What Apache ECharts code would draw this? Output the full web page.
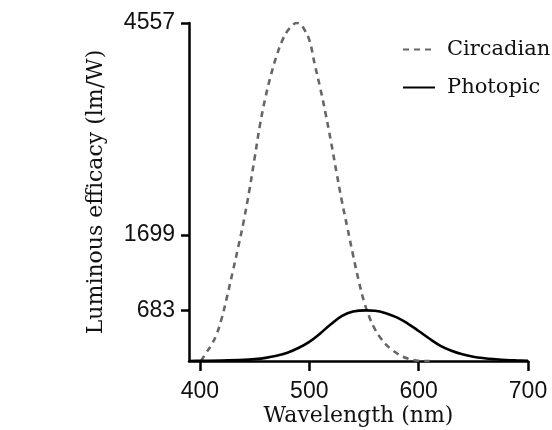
<!DOCTYPE html>
<html>
<head>
<meta charset="utf-8">
<script src="https://cdn.jsdelivr.net/npm/echarts@6/dist/echarts.min.js"></script>
<style>
  html, body { margin: 0; padding: 0; background: #fff; }
  #chart { width: 552px; height: 430px; }
</style>
</head>
<body>
<div id="chart"></div>
<script>
// values (wavelength in nm, efficacy in lm/W)
var circadianNm = [401, 405, 410, 415, 420, 425, 430, 435, 440, 445, 450, 455, 460, 465, 470, 475, 480, 485, 488, 492, 495, 500, 505, 510, 515, 520, 525, 530, 535, 540, 545, 550, 555, 560, 565, 570, 575, 580, 585, 590, 595, 600, 610];
var circadianVal = [0, 95, 205, 350, 580, 880, 1205, 1535, 1885, 2285, 2735, 3190, 3560, 3860, 4110, 4310, 4450, 4530, 4557, 4540, 4480, 4330, 4000, 3680, 3330, 2945, 2535, 2140, 1785, 1430, 1095, 805, 590, 430, 315, 225, 160, 105, 62, 33, 14, 4, 0];
var photopicNm = [390, 400, 420, 440, 450, 460, 470, 480, 490, 500, 510, 520, 530, 540, 552, 560, 570, 580, 590, 600, 610, 620, 630, 640, 650, 660, 670, 680, 690, 700];
var photopicVal = [0, 2, 6, 15, 25, 42, 70, 112, 175, 258, 372, 500, 608, 666, 683, 678, 645, 588, 505, 405, 300, 205, 138, 90, 58, 38, 24, 13, 7, 3];
var xTicks = [400, 500, 600, 700];
var yTicks = [683, 1699, 4557];

function pairs(xs, ys) {
  return xs.map(function (x, i) { return [x, ys[i]]; });
}

var chart = echarts.init(document.getElementById('chart'));
var option = {
  animation: false,
  backgroundColor: '#fff',
  grid: { left: 189, right: 24, top: 23, bottom: 69, outerBoundsMode: 'none' },
  legend: {
    orient: 'vertical',
    left: 397,
    top: 34,
    itemWidth: 32,
    itemHeight: 12,
    itemGap: 17,
    data: ['Circadian', 'Photopic'],
    itemStyle: { opacity: 0 },
    textStyle: {
      fontFamily: 'DejaVu Serif',
      fontSize: 21,
      color: '#111',
      padding: [0, 0, 0, 7]
    }
  },
  xAxis: {
    type: 'value',
    min: 390,
    max: 700,
    name: 'Wavelength (nm)',
    nameLocation: 'middle',
    nameGap: 44,
    nameMoveOverlap: false,
    nameTextStyle: { fontFamily: 'DejaVu Serif', fontSize: 22, color: '#111' },
    splitLine: { show: false },
    axisLine: { show: true, lineStyle: { color: '#000', width: 2.5 } },
    axisTick: { show: true, length: 10, customValues: xTicks, lineStyle: { color: '#000', width: 2.5 } },
    axisLabel: {
      customValues: xTicks, margin: 19, fontFamily: 'Liberation Sans', fontSize: 23, color: '#111',
      formatter: function (v) { return String(v); }
    }
  },
  yAxis: {
    type: 'value',
    min: 0,
    max: 4557,
    name: 'Luminous efficacy (lm/W)',
    nameLocation: 'middle',
    nameGap: 82,
    nameMoveOverlap: false,
    nameTextStyle: { fontFamily: 'DejaVu Serif', fontSize: 22, color: '#111' },
    splitLine: { show: false },
    axisLine: { show: true, lineStyle: { color: '#000', width: 2.5 } },
    axisTick: { show: true, length: 8, customValues: yTicks, lineStyle: { color: '#000', width: 2.5 } },
    axisLabel: {
      customValues: yTicks, margin: 14, fontFamily: 'Liberation Sans', fontSize: 23, color: '#111',
      formatter: function (v) { return String(v); }
    }
  },
  series: [
    {
      name: 'Circadian',
      type: 'line',
      data: pairs(circadianNm, circadianVal),
      smooth: 0.4,
      symbol: 'none',
      lineStyle: { color: '#666', width: 2.6, type: [6, 5] },
      itemStyle: { color: '#666' },
      z: 2
    },
    {
      name: 'Photopic',
      type: 'line',
      data: pairs(photopicNm, photopicVal),
      smooth: 0.4,
      symbol: 'none',
      lineStyle: { color: '#000', width: 2.6 },
      itemStyle: { color: '#000' },
      z: 3
    }
  ]
};
chart.setOption(option);
</script>
</body>
</html>
